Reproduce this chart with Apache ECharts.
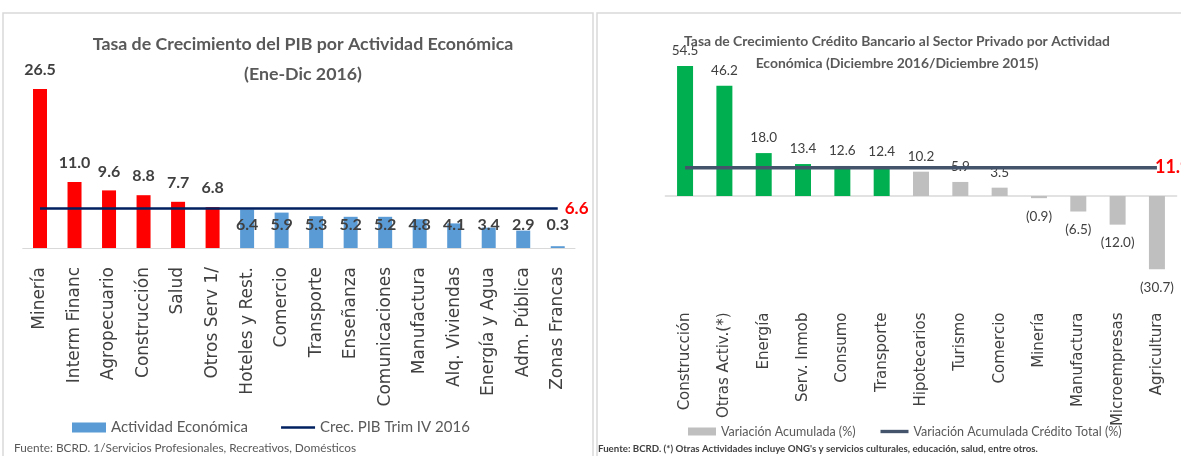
<!DOCTYPE html>
<html>
<head>
<meta charset="utf-8">
<script src="https://cdn.jsdelivr.net/npm/echarts@6/dist/echarts.min.js"></script>
<style>
  html, body { margin: 0; padding: 0; background: #fff; }
  #chart { width: 1181px; height: 456px; }
</style>
</head>
<body>
<div id="chart"></div>
<script>
// PIB por actividad (Ene-Dic 2016)
const pibCats = ['Minería', 'Interm Financ', 'Agropecuario', 'Construcción', 'Salud', 'Otros Serv 1/',
  'Hoteles y Rest.', 'Comercio', 'Transporte', 'Enseñanza', 'Comunicaciones', 'Manufactura',
  'Alq. Viviendas', 'Energía y Agua', 'Adm. Pública', 'Zonas Francas']
const pibValues = [26.5, 11.0, 9.6, 8.8, 7.7, 6.8, 6.4, 5.9, 5.3, 5.2, 5.2, 4.8, 4.1, 3.4, 2.9, 0.3]
const pibTotal = 6.6

// Crédito bancario (Dic 2016 / Dic 2015)
const credCats = ['Construcción', 'Otras Activ.(*)', 'Energía', 'Serv. Inmob', 'Consumo', 'Transporte',
  'Hipotecarios', 'Turismo', 'Comercio', 'Minería', 'Manufactura', 'Microempresas', 'Agricultura']
const credValues = [54.5, 46.2, 18.0, 13.4, 12.6, 12.4, 10.2, 5.9, 3.5, -0.9, -6.5, -12.0, -30.7]
const credTotal = 11.9

const calib = 'Lato, "DejaVu Sans Condensed", sans-serif'
const wide = '"DejaVu Sans", sans-serif'
// icono de linea para la leyenda
const lineIcon = 'path://M0,0H100V8H0Z'
const thickIcon = 'path://M0,0H100V12H0Z'

let pibData = pibValues.map(function (v) {
  let above = v > pibTotal
  return {
    value: v,
    itemStyle: {color: above ? '#FF0000' : '#5B9BD5'},
    label: above ? {position: 'top', distance: 11} : {position: 'insideBottom', distance: 15}
  }
})

let credData = credValues.map(function (v) {
  return {
    value: v,
    itemStyle: {color: v > credTotal ? '#00B050' : '#BFBFBF'},
    label: v < 0 ? {position: 'bottom', distance: 11} : {position: 'top', distance: 8}
  }
})

let option = {
  animation: false,
  backgroundColor: '#fff',
  title: [
    {
      text: 'Tasa de Crecimiento del PIB por Actividad Económica\n(Ene-Dic 2016)',
      left: 298, top: 24, textAlign: 'center',
      textStyle: {fontFamily: calib, fontSize: 17.8, fontWeight: 'bold', color: '#595959', lineHeight: 30}
    },
    {
      text: 'Tasa de Crecimiento Crédito Bancario al Sector Privado por Actividad\nEconómica (Diciembre 2016/Diciembre 2015)',
      left: 892, top: 26, textAlign: 'center',
      textStyle: {fontFamily: calib, fontSize: 13.9, fontWeight: 'bold', color: '#595959', lineHeight: 22}
    }
  ],
  legend: [
    {
      data: [
        {name: 'Actividad Económica', icon: 'rect'},
        {name: 'Crec. PIB Trim IV 2016', icon: lineIcon}
      ],
      left: 67, top: 415, itemWidth: 34, itemHeight: 10, itemGap: 33,
      textStyle: {fontFamily: calib, fontSize: 15, color: '#595959'}
    },
    {
      data: [
        {name: 'Variación Acumulada (%)', icon: 'rect'},
        {name: 'Variación Acumulada Crédito Total (%)', icon: thickIcon}
      ],
      left: 683, top: 420, width: 498, itemWidth: 28, itemHeight: 8, itemGap: 25,
      textStyle: {fontFamily: calib, fontSize: 12.5, color: '#595959'}
    }
  ],
  grid: [
    {left: 22.75, width: 552.25, top: 68, height: 180},
    {left: 665.4, width: 511.2, top: 52.9, height: 226.6}
  ],
  xAxis: [
    {
      type: 'category', gridIndex: 0, data: pibCats,
      axisLine: {lineStyle: {color: '#D9D9D9', width: 1}},
      axisTick: {show: false},
      axisLabel: {rotate: 90, margin: 19, interval: 0, fontFamily: wide, fontSize: 17, color: '#404040'}
    },
    {
      // linea base en cero
      type: 'category', gridIndex: 1, data: credCats, position: 'bottom',
      axisLine: {onZero: true, lineStyle: {color: '#D9D9D9', width: 1.5}},
      axisTick: {show: false},
      axisLabel: {show: false}
    },
    {
      // etiquetas abajo
      type: 'category', gridIndex: 1, data: credCats, position: 'bottom',
      axisLine: {show: false, onZero: false},
      axisTick: {show: false},
      axisLabel: {rotate: 90, margin: 33, interval: 0, fontFamily: wide, fontSize: 15, color: '#404040'}
    }
  ],
  yAxis: [
    {type: 'value', gridIndex: 0, min: 0, max: 30, show: false},
    {type: 'value', gridIndex: 1, min: -35, max: 60, show: false}
  ],
  graphic: [
    {type: 'rect', shape: {x: 3, y: 13, width: 590, height: 460}, style: {fill: 'none', stroke: '#D9D9D9', lineWidth: 1.5}, silent: true},
    {type: 'rect', shape: {x: 597, y: 13, width: 600, height: 460}, style: {fill: 'none', stroke: '#D9D9D9', lineWidth: 1.5}, silent: true},
    {
      type: 'text', left: 14, top: 442,
      style: {text: 'Fuente: BCRD. 1/Servicios Profesionales, Recreativos, Domésticos', fontFamily: calib, fontSize: 11.8, fill: '#595959'}
    },
    {
      type: 'text', left: 598, top: 444,
      style: {text: "Fuente: BCRD. (*) Otras Actividades incluye ONG's y servicios culturales, educación, salud, entre otros.", fontFamily: calib, fontSize: 9.7, fontWeight: 'bold', fill: '#404040'}
    }
  ],
  series: [
    {
      name: 'Actividad Económica', type: 'bar', xAxisIndex: 0, yAxisIndex: 0,
      barWidth: 14, color: '#5B9BD5',
      label: {
        show: true, fontFamily: calib, fontSize: 16, fontWeight: 'bold', color: '#404040',
        formatter: function (p) { return p.value.toFixed(1) }
      },
      data: pibData
    },
    {
      name: 'Crec. PIB Trim IV 2016', type: 'line', xAxisIndex: 0, yAxisIndex: 0,
      symbol: 'none', color: '#002060',
      lineStyle: {color: '#002060', width: 2.5},
      endLabel: {
        show: true, distance: 7, fontFamily: calib, fontSize: 17, fontWeight: 'bold', color: '#FF0000',
        formatter: function (p) { return p.value.toFixed(1) }
      },
      data: pibCats.map(function () { return pibTotal })
    },
    {
      name: 'Variación Acumulada (%)', type: 'bar', xAxisIndex: 1, yAxisIndex: 1,
      barWidth: 16, color: '#BFBFBF',
      label: {
        show: true, fontFamily: calib, fontSize: 13.5, color: '#404040',
        formatter: function (p) {
          let v = p.value
          return v < 0 ? '(' + Math.abs(v).toFixed(1) + ')' : v.toFixed(1)
        }
      },
      data: credData
    },
    {
      name: 'Variación Acumulada Crédito Total (%)', type: 'line', xAxisIndex: 1, yAxisIndex: 1,
      symbol: 'none', color: '#44546A',
      lineStyle: {color: '#44546A', width: 3.5},
      endLabel: {
        show: true, distance: -2, fontFamily: calib, fontSize: 18, fontWeight: 'bold', color: '#FF0000',
        formatter: function (p) { return p.value.toFixed(1) }
      },
      data: credCats.map(function () { return credTotal })
    }
  ]
}

let chart = echarts.init(document.getElementById('chart'))
chart.setOption(option)
</script>
</body>
</html>
